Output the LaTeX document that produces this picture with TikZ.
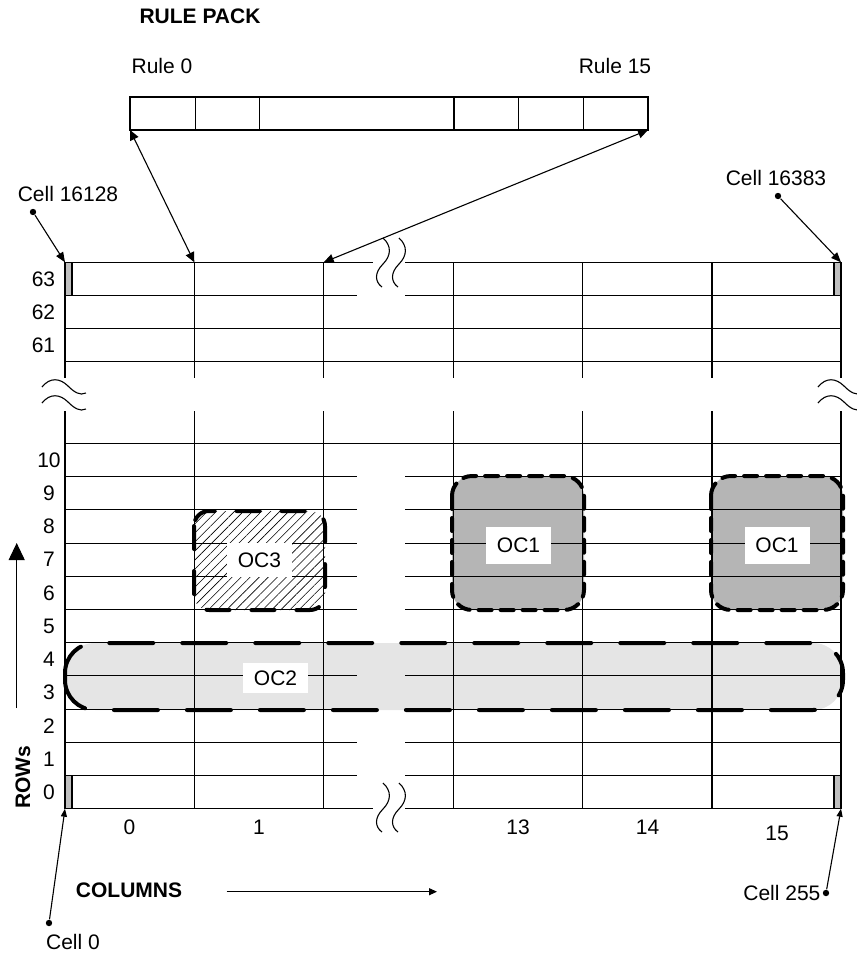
\documentclass[tikz,border=0pt]{standalone}
\usepackage{fontspec}
\setmainfont{Liberation Sans}
\usetikzlibrary{arrows.meta,patterns.meta}
\definecolor{cellgray}{gray}{0.75}
\definecolor{ocdark}{gray}{0.71}
\definecolor{oclight}{gray}{0.9}
\tikzset{
  txt/.style={font=\fontsize{10.5}{12}\selectfont, inner sep=0pt},
  boldtxt/.style={font=\fontsize{10.5}{12}\selectfont\bfseries, inner sep=0pt},
  ocbox/.style={fill=white, inner sep=0pt, minimum width=32.5pt, minimum height=17pt,
    font=\fontsize{10.5}{12}\selectfont},
  dot/.style={circle, fill, inner sep=0pt, minimum size=3.2pt},
  tip/.style={-{Triangle[length=5pt,width=4pt]}},
  bothtips/.style={{Triangle[length=5pt,width=4.5pt]}-{Triangle[length=5pt,width=4.5pt]}},
  ocline/.style={line width=2pt, line cap=round},
}
\begin{document}
\begin{tikzpicture}[x=0.5pt,y=-0.5pt,line width=0.55pt]
  \useasboundingbox (0,0) rectangle (857,954);
  % Object cluster fills
  \fill[oclight,rounded corners=15pt] (65,643) rectangle (843,710);
  \foreach \x in {452,711}
    \fill[ocdark,rounded corners=10pt] (\x,476) rectangle ++(132,134);
  \fill[pattern={Lines[angle=45,distance=3.2pt,line width=0.3pt]},rounded corners=7.5pt]
    (194,511) rectangle (325,610);

  % Rule pack
  \draw (130,97) rectangle (648,130);
  \foreach \x in {195.3,259.7,454,518.7,583.3} \draw (\x,97) -- (\x,130);
  \coordinate (rp0) at (130,130);
  \coordinate (rp15) at (648,130);

  % Grid, upper rows
  \draw (65,262.3) -- (373,262.3) (405,262.3) -- (841,262.3);
  \draw (65,295.5) -- (357,295.5) (405,295.5) -- (841,295.5);
  \draw (65,328.7) -- (841,328.7) (65,361.9) -- (841,361.9);
  % Grid, lower rows
  \draw (65,808.7) -- (373,808.7) (405,808.7) -- (841,808.7);
  \foreach \i in {1,...,10}
    \draw (65,{808.7-33.2*\i}) -- (357,{808.7-33.2*\i}) (405,{808.7-33.2*\i}) -- (841,{808.7-33.2*\i});
  \draw (65,443.5) -- (841,443.5);
  % Columns
  \foreach \x in {65,194.3,323.7,453.3,582.7,712,841} {
    \draw (\x,262.3) -- (\x,378);
    \draw[line width=0.7pt] (\x,411) -- (\x,808.7);
  }
  % Corner cells
  \foreach \x in {65,834} {
    \draw[fill=cellgray] (\x,262.3) rectangle ++(7,33.2);
    \draw[fill=cellgray] (\x,775.5) rectangle ++(7,33.2);
  }
  \coordinate (tl) at (65,262.3);
  \coordinate (tr) at (841,262.3);
  \coordinate (bl) at (65,808.7);
  \coordinate (br) at (841,808.7);
  \coordinate (col1) at (194.3,262.3);
  \coordinate (col2) at (323.7,262.3);

  % Break marks
  \foreach \y in {0,545}
    \foreach \d in {0,16}
      \draw[shift={(\d,\y)}] (383,238) .. controls (392,246) and (391,256) .. (383,264)
        .. controls (374,273) and (375,282) .. (382,287);
  \foreach \x in {0,776}
    \foreach \d in {0,16}
      \draw[shift={(\x,\d)}] (42,387) .. controls (50,377) and (60,378) .. (68,386)
        .. controls (74,392) and (80,396) .. (86,393);

  % Object cluster borders
  \draw[ocline,dash pattern=on 22pt off 14.5pt,rounded corners=15pt] (65,643) rectangle (843,710);
  \foreach \x in {452,711}
    \draw[ocline,dash pattern=on 6.5pt off 4.5pt,rounded corners=10pt] (\x,476) rectangle ++(132,134);
  \draw[ocline,dash pattern=on 11.5pt off 11pt,rounded corners=7.5pt] (194,511) rectangle (325,610);
  \node[ocbox] (oc3) at (259.5,560) {OC3};
  \node[ocbox,minimum height=18.5pt] (oc1a) at (518.5,545.5) {OC1};
  \node[ocbox,minimum height=18.5pt] (oc1b) at (777,545.5) {OC1};
  \node[ocbox,minimum height=15pt] (oc2) at (275.5,678) {OC2};

  % Labels
  \node[boldtxt] (title) at (200,16) {RULE PACK};
  \node[txt] (rule0) at (162,66) {Rule 0};
  \node[txt] (rule15) at (615,66) {Rule 15};
  \foreach \n [count=\k] in {63,62,61}
    \node[txt] (r\n) at (43.5,{262.3+33.2*(\k-0.5)}) {\n};
  \foreach \i in {0,...,10}
    \node[txt] (r\i) at (49,{808.7-33.2*(\i+0.5)}) {\i};
  \foreach \x/\n in {129.5/0,259/1,518/13,647.5/14}
    \node[txt] (k\n) at (\x,827) {\n};
  \node[txt] (k15) at (777,833) {15};
  \node[boldtxt,rotate=90] (rows) at (23,777) {ROWs};
  \node[boldtxt] (cols) at (129,890) {COLUMNS};

  % Cell pointers
  \node[txt] (c16128) at (68,194) {Cell 16128};
  \node[dot] (d16128) at (33,212) {};
  \node[txt] (c16383) at (776,178) {Cell 16383};
  \node[dot] (d16383) at (778,196) {};
  \node[dot] (d0) at (49,923) {};
  \node[txt] (c0) at (73,942) {Cell 0};
  \node[dot] (d255) at (826,893) {};
  \node[txt,anchor=east] (c255) at (821,893) {Cell 255};
  \draw[tip] (d16128) -- (tl);
  \draw[tip] (d16383) -- (tr);
  \draw[-{Triangle[length=4pt,width=3pt]}] (d0) -- (bl);
  \draw[-{Triangle[length=4pt,width=3pt]}] (d255) -- (br);

  % Rule arrows
  \draw[bothtips] (rp0) -- (col1);
  \draw[bothtips] (col2) -- (rp15);

  % Axis arrows
  \coordinate (rowfrom) at (16.7,708);
  \coordinate (rowto) at (16.7,543);
  \draw[-{Triangle[length=8.5pt,width=8pt]}] (rowfrom) -- (rowto);
  \coordinate (colto) at (437,891.7);
  \draw[-{Triangle[length=4pt,width=3.5pt]}] ([xshift=22pt]cols.east |- colto) -- (colto);
\end{tikzpicture}
\end{document}
